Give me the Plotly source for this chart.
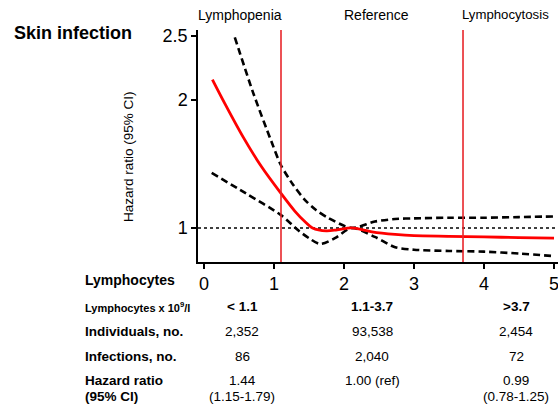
import plotly.graph_objects as go

# ---------------- data ----------------
hr_x = [0.12, 0.3, 0.56, 0.82, 1.1, 1.3, 1.44, 1.55, 1.75, 1.9, 2.11, 2.4, 2.73, 3.0, 3.5, 4.0, 4.5, 5.0]
hr_y = [2.16, 1.97, 1.71, 1.48, 1.27, 1.13, 1.05, 1.0, 0.977, 0.985, 1.0, 0.97, 0.95, 0.94, 0.935, 0.93, 0.925, 0.92]

ucl_x = [0.44, 0.7, 0.96, 1.1, 1.27, 1.44, 1.6, 1.77, 2.11, 2.44, 2.73, 3.0, 3.5, 4.0, 4.5, 5.0]
ucl_y = [2.49, 2.06, 1.68, 1.49, 1.34, 1.22, 1.14, 1.08, 1.0, 1.05, 1.07, 1.075, 1.08, 1.08, 1.085, 1.09]

lcl_x = [0.11, 0.6, 1.1, 1.35, 1.5, 1.66, 1.87, 2.11, 2.44, 2.73, 3.0, 3.5, 4.0, 4.5, 5.0]
lcl_y = [1.43, 1.27, 1.10, 0.98, 0.92, 0.875, 0.92, 1.0, 0.93, 0.85, 0.83, 0.82, 0.815, 0.80, 0.78]

cutpoints = [1.1, 3.7]
reference_hr = 1.0

x_ticks = [0, 1, 2, 3, 4, 5]
y_ticks = [1, 2, 2.5]
y_tick_text = ["1", "2", "2.5"]

panel_title = "Skin infection"
y_title = "Hazard ratio (95% CI)"
region_labels = ["Lymphopenia", "Reference", "Lymphocytosis"]

table_header = "Lymphocytes"
row_labels = ["Lymphocytes x 10<sup>9</sup>/l", "Individuals, no.", "Infections, no.", "Hazard ratio", "(95% CI)"]
groups = ["< 1.1", "1.1-3.7", ">3.7"]
individuals = ["2,352", "93,538", "2,454"]
infections = ["86", "2,040", "72"]
hr_point = ["1.44", "1.00 (ref)", "0.99"]
hr_ci = ["(1.15-1.79)", "", "(0.78-1.25)"]

# ---------------- layout helpers ----------------
W, H = 558, 406
L, R, T, B = 198, 0, 30, 144
PW, PH = W - L - R, H - T - B
FONT = "Liberation Sans, Arial, sans-serif"


def pxx(x):
    return (x - L) / PW


def pxy(y):
    return (H - B - y) / PH


fig = go.Figure()

fig.add_trace(go.Scatter(x=ucl_x, y=ucl_y, mode="lines", line=dict(color="black", width=2.6, dash="7px,4px", shape="spline", smoothing=0.8), hoverinfo="skip"))
fig.add_trace(go.Scatter(x=lcl_x, y=lcl_y, mode="lines", line=dict(color="black", width=2.6, dash="7px,4px", shape="spline", smoothing=0.8), hoverinfo="skip"))
fig.add_trace(go.Scatter(x=hr_x, y=hr_y, mode="lines", line=dict(color="#ff0000", width=2.8, shape="spline", smoothing=0.8), hoverinfo="skip"))

shapes = [dict(type="line", xref="paper", x0=0, x1=1, yref="y", y0=reference_hr, y1=reference_hr,
               line=dict(color="black", width=1.5, dash="dot"), layer="below")]
for c in cutpoints:
    shapes.append(dict(type="line", xref="x", x0=c, x1=c, yref="paper", y0=0, y1=1,
                       line=dict(color="#e8262b", width=1.6)))

ann = []
ann.append(dict(text="<b>" + panel_title + "</b>", x=pxx(73), y=pxy(33), xanchor="center", yanchor="middle",
                font=dict(size=18, color="black", family=FONT)))
ann.append(dict(text=y_title, x=pxx(128), y=pxy(157), xanchor="center", yanchor="middle", textangle=-90,
                font=dict(size=13.5, color="black", family=FONT)))
for lbl, cx, fs in zip(region_labels, [240, 376.5, 505.5], [14, 14, 13.2]):
    ann.append(dict(text=lbl, x=pxx(cx), y=pxy(15), xanchor="center", yanchor="middle",
                    font=dict(size=fs, color="black", family=FONT)))

ann.append(dict(text="<b>" + table_header + "</b>", x=pxx(83), y=pxy(280), xanchor="left", yanchor="middle",
                font=dict(size=14, color="black", family=FONT)))
row_y = [306.7, 331, 356, 380.7, 396]
row_fs = [11, 13.5, 13.5, 13.5, 13.5]
for lbl, ry, fs in zip(row_labels, row_y, row_fs):
    ann.append(dict(text="<b>" + lbl + "</b>", x=pxx(83), y=pxy(ry), xanchor="left", yanchor="middle",
                    font=dict(size=fs, color="black", family=FONT)))

col_x = [242, 372, 516]
rows = [(groups, 306.7, True), (individuals, 331, False), (infections, 356, False),
        (hr_point, 380.7, False), (hr_ci, 396, False)]
for vals, ry, bold in rows:
    for v, cx in zip(vals, col_x):
        if not v:
            continue
        ann.append(dict(text=("<b>" + v + "</b>") if bold else v, x=pxx(cx), y=pxy(ry),
                        xanchor="center", yanchor="middle",
                        font=dict(size=13.5, color="black", family=FONT)))

for a in ann:
    a.update(xref="paper", yref="paper", showarrow=False)

fig.update_layout(
    width=W, height=H,
    margin=dict(l=L, r=R, t=T, b=B, pad=0),
    paper_bgcolor="white", plot_bgcolor="white",
    showlegend=False,
    shapes=shapes,
    annotations=ann,
    font=dict(family=FONT, color="black"),
    xaxis=dict(range=[-0.0857, 5.057], tickvals=x_ticks, showline=True, linecolor="black", linewidth=1.5,
               ticks="outside", ticklen=5, tickwidth=1.5, tickcolor="black", showgrid=False, zeroline=False,
               ticklabeloverflow="allow",
               tickfont=dict(size=18, family=FONT, color="black")),
    yaxis=dict(range=[0.734, 2.547], tickvals=y_ticks, ticktext=y_tick_text, showline=True, linecolor="black",
               linewidth=1.5, ticks="outside", ticklen=5, tickwidth=1.5, tickcolor="black", showgrid=False,
               zeroline=False, tickfont=dict(size=18, family=FONT, color="black")),
)

fig.write_html("out.html", config={"displayModeBar": False},
               post_script="document.body.style.margin='0';document.body.style.padding='0';")
